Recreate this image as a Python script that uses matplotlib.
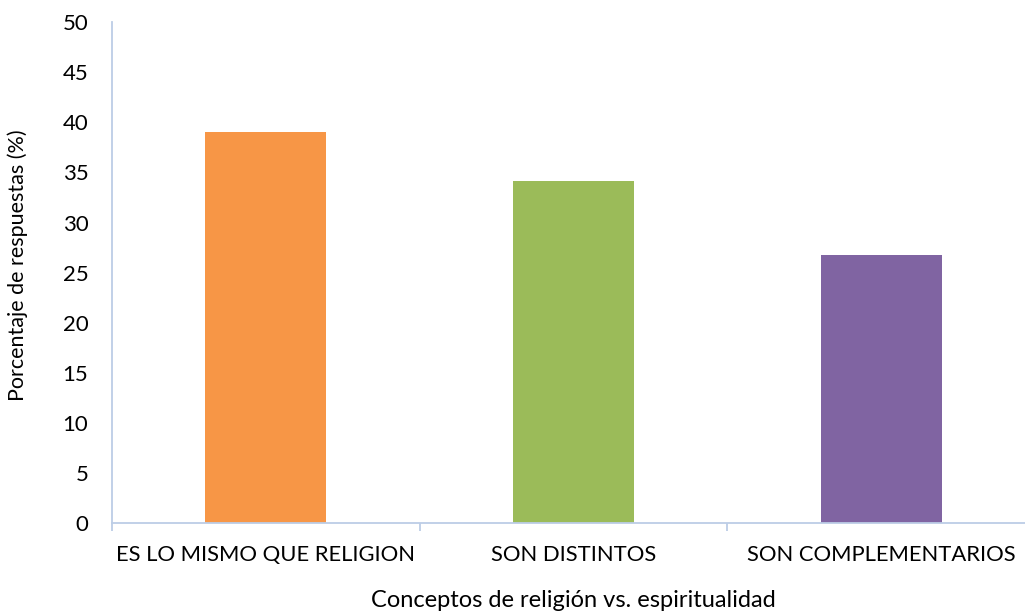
import matplotlib.pyplot as plt

categorias = ['ES LO MISMO QUE RELIGION', 'SON DISTINTOS', 'SON COMPLEMENTARIOS']
porcentajes = [39.0, 34.1, 26.8]
colores = ['#F79646', '#9BBB59', '#8064A2']

plt.rcParams['font.family'] = ['Lato', 'DejaVu Sans']

fig = plt.figure(figsize=(10.25, 6.13), dpi=100)
ax = fig.add_axes([0.1093, 0.1468, 0.9005, 0.817])

x = range(len(categorias))
ax.bar(x, porcentajes, width=0.393, color=colores)

ax.set_xlim(-0.5, 2.5)
ax.set_ylim(0, 50)
ax.set_yticks(range(0, 51, 5))
ax.set_xticks(list(x))
ax.set_xticklabels(categorias)
ax.set_xticks([-0.5, 0.5, 1.5, 2.5], minor=True)

spine_col = '#BCCDE6'
for s in ['top', 'right']:
    ax.spines[s].set_visible(False)
for s in ['left', 'bottom']:
    ax.spines[s].set_color(spine_col)
    ax.spines[s].set_linewidth(1.3)

ax.tick_params(axis='y', length=0, pad=17, labelsize=16)
ax.tick_params(axis='x', which='major', length=0, pad=16, labelsize=15.8)
ax.tick_params(axis='x', which='minor', length=6, color=spine_col, width=1.3)

ax.set_xlabel('Conceptos de religión vs. espiritualidad', fontsize=17, labelpad=18)
ax.set_ylabel('Porcentaje de respuestas (%)', fontsize=15.5)
ax.yaxis.set_label_coords(-0.091, 0.515)

plt.savefig('out.png')
